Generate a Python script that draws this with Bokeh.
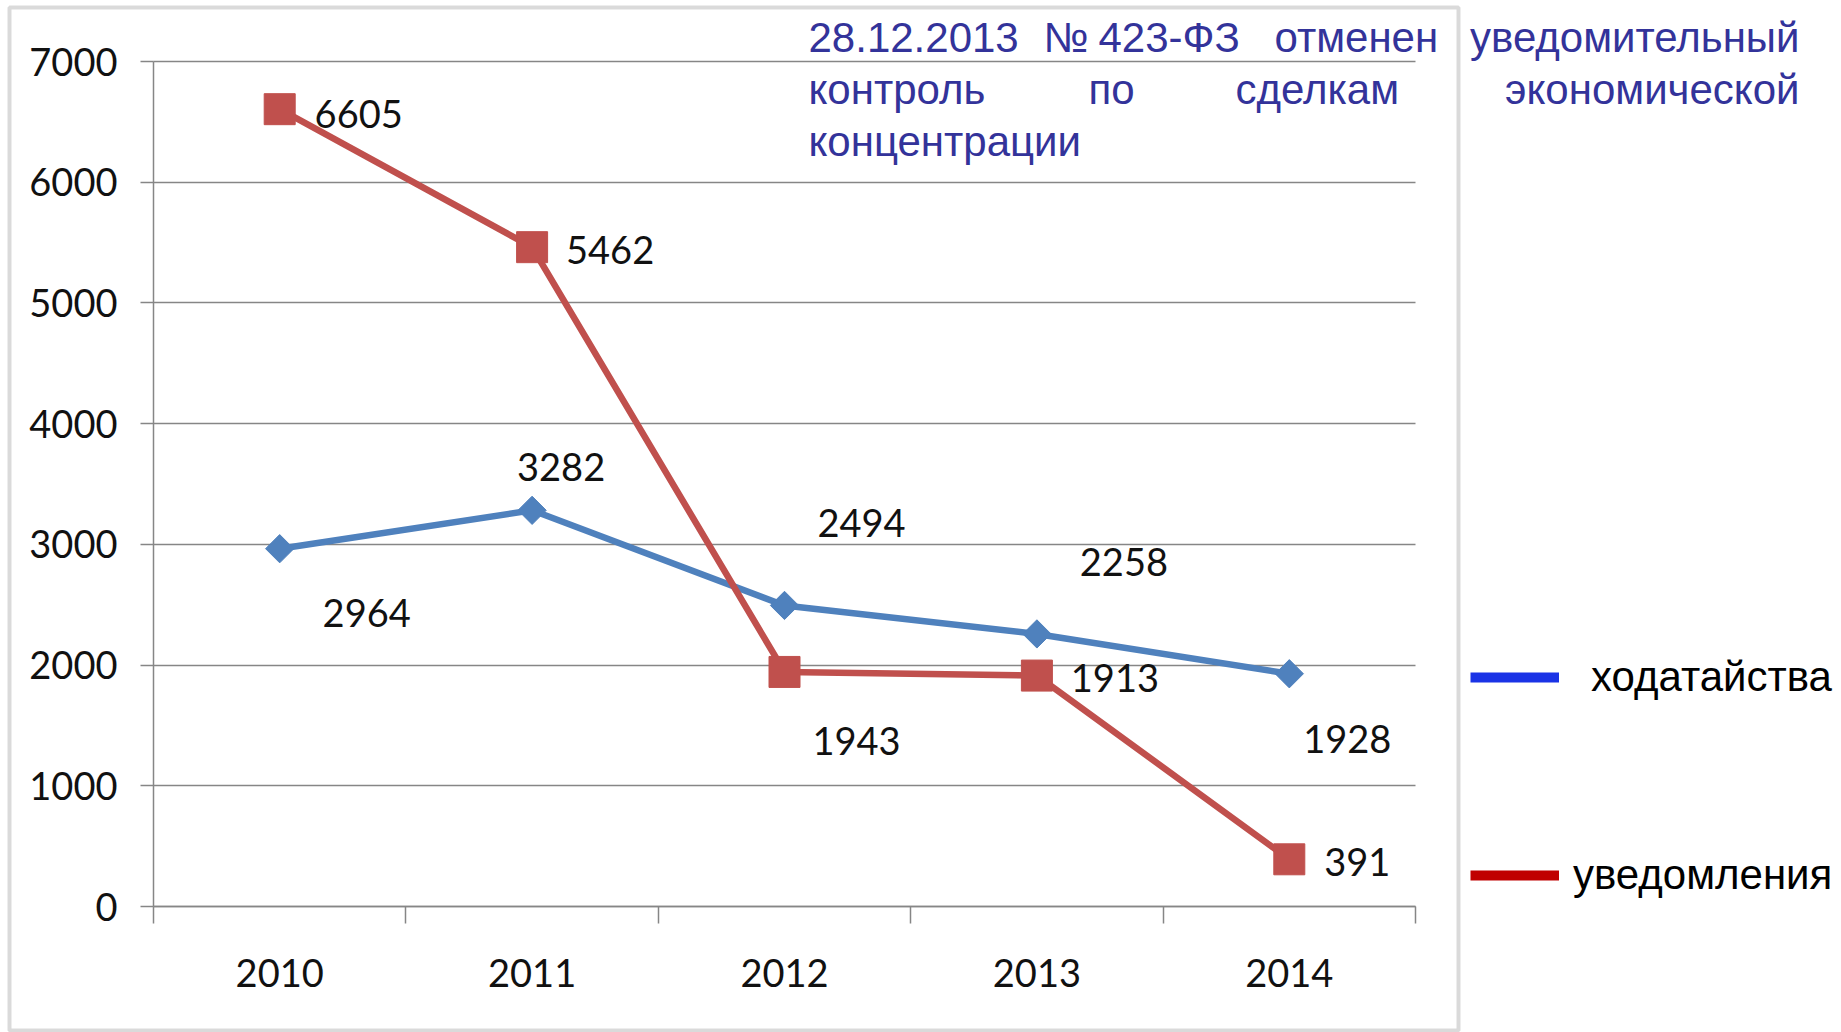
from bokeh.plotting import figure
from bokeh.models import (FixedTicker, Label, Legend, LegendItem, BoxAnnotation,
                          ColumnDataSource, Range1d)
from bokeh.embed import file_html
from bokeh.resources import INLINE
from bokeh.core.properties import value

# ---------------- data ----------------
years = [2010, 2011, 2012, 2013, 2014]
petitions = [2964, 3282, 2494, 2258, 1928]      # ходатайства
notices = [6605, 5462, 1943, 1913, 391]         # уведомления
y_ticks = [0, 1000, 2000, 3000, 4000, 5000, 6000, 7000]
series_names = ["ходатайства", "уведомления"]
note_line1 = ["28.12.2013", "№", "423-ФЗ", "отменен", "уведомительный"]
note_line2 = ["контроль", "по", "сделкам", "экономической"]
note_line3 = ["концентрации"]

# ---------------- layout / style ----------------
W, H = 1841, 1032
AX_L, AX_R = 153, 1415        # plot area in px (x)
AX_T, AX_B = 61, 906          # plot area in px (y)
GRAY = "#868686"
NUM_FONT = "Lato"
TXT_FONT = "Liberation Sans"
BLUE = "#4F81BD"
RED = "#C0504D"
NOTE_COLOR = "#33339A"

# data-label pixel offsets (style)
pet_dx = [87, 29, 77, 87, 58]
pet_dy = [64, -43, -82, -72, 65]
not_dx = [79, 78, 72, 78, 68]
not_dy = [5, 3, 69, 2, 3]

x_lo, x_hi = years[0] - 0.5, years[-1] + 0.5
y_lo, y_hi = y_ticks[0], y_ticks[-1]
ppx = (AX_R - AX_L) / (x_hi - x_lo)
ppy = (AX_B - AX_T) / (y_hi - y_lo)

p = figure(width=W, height=H, output_backend="svg", toolbar_location=None,
           title=None,
           x_range=Range1d(x_lo - AX_L / ppx, x_hi + (W - AX_R) / ppx),
           y_range=Range1d(y_lo - (H - AX_B) / ppy, y_hi + AX_T / ppy),
           min_border=0)
p.outline_line_color = None
p.background_fill_color = "white"
p.border_fill_color = "white"


def sx(ref_x):
    return ref_x


def sy(ref_y):
    return H - ref_y


# axes drawn inside the canvas at fixed locations
xax = p.xaxis[0]
yax = p.yaxis[0]
xax.fixed_location = y_lo
yax.fixed_location = x_lo
xax.bounds = (x_lo, x_hi)
yax.bounds = (y_lo, y_hi)

xax.ticker = FixedTicker(ticks=years,
                         minor_ticks=[y - 0.5 for y in years] + [years[-1] + 0.5])
xax.major_tick_line_color = None
xax.major_tick_out = 0
xax.major_tick_in = 0
xax.minor_tick_out = 17
xax.minor_tick_in = 0
xax.minor_tick_line_color = GRAY
xax.minor_tick_line_width = 1.5
xax.major_label_standoff = 35

yax.ticker = FixedTicker(ticks=y_ticks)
yax.major_tick_out = 13
yax.major_tick_in = 0
yax.minor_tick_line_color = None
yax.major_tick_line_color = GRAY
yax.major_tick_line_width = 1.5
yax.major_label_standoff = 23

for ax in (xax, yax):
    ax.axis_line_color = GRAY
    ax.axis_line_width = 1.5
    ax.major_label_text_font = NUM_FONT
    ax.major_label_text_font_size = "38px"
    ax.major_label_text_color = "#111111"

p.xgrid.grid_line_color = None
yg = p.ygrid[0]
yg.ticker = yax.ticker
if "cross_bounds" in yg.properties():
    yg.cross_bounds = (x_lo, x_hi)
    yg.grid_line_color = GRAY
    yg.grid_line_width = 1.5
else:
    yg.grid_line_color = None
    p.segment(x0=[x_lo] * len(y_ticks), x1=[x_hi] * len(y_ticks),
              y0=y_ticks, y1=y_ticks, line_color=GRAY, line_width=1.5)

# series
src = ColumnDataSource(dict(x=years, pet=petitions, notc=notices,
                            pet_t=[str(v) for v in petitions],
                            not_t=[str(v) for v in notices],
                            pdx=pet_dx, pdy=pet_dy, ndx=not_dx, ndy=not_dy))

p.line("x", "pet", source=src, line_color=BLUE, line_width=6.5)
p.scatter("x", "pet", source=src, marker="square", angle=0.7854, size=20,
          fill_color=BLUE, line_color=BLUE)
p.line("x", "notc", source=src, line_color=RED, line_width=6.5)
p.scatter("x", "notc", source=src, marker="square", size=31,
          fill_color=RED, line_color=RED)

p.text("x", "pet", text="pet_t", source=src, x_offset="pdx", y_offset="pdy",
       text_font=value(NUM_FONT), text_font_size="38px", text_color="#111111",
       text_align="center", text_baseline="middle")
p.text("x", "notc", text="not_t", source=src, x_offset="ndx", y_offset="ndy",
       text_font=value(NUM_FONT), text_font_size="38px", text_color="#111111",
       text_align="center", text_baseline="middle")

# legend (separate items; legend colours differ from line colours)
nan = float("nan")
leg_blue = p.line(x=[nan], y=[nan], line_color="#1A33E6", line_width=10)
leg_red = p.line(x=[nan], y=[nan], line_color="#C00000", line_width=10)
for rend, name, cy, standoff in [(leg_blue, series_names[0], 677, 32),
                                 (leg_red, series_names[1], 875, 14)]:
    lg = Legend(items=[LegendItem(label=name, renderers=[rend], index=0)],
                location=(sx(1470), sy(cy + 25)),
                glyph_width=89, glyph_height=50, label_height=50,
                label_standoff=standoff, padding=0, margin=0, spacing=0,
                border_line_color=None, background_fill_alpha=0,
                label_text_font=TXT_FONT, label_text_font_size="42px",
                label_text_color="#000000")
    p.add_layout(lg, "center")

# image outline
p.add_layout(BoxAnnotation(left=sx(9), right=sx(1458), top=sy(7), bottom=sy(1030),
                           left_units="screen", right_units="screen",
                           top_units="screen", bottom_units="screen",
                           fill_alpha=0, line_color=GRAY, line_width=4))


# note text (justified words)
def add_words(words, lefts, right_word, baseline):
    for w, lx in zip(words, lefts):
        p.add_layout(Label(x=sx(lx), y=sy(baseline), text=w,
                           x_units="screen", y_units="screen",
                           text_font=TXT_FONT, text_font_size="42px",
                           text_color=NOTE_COLOR, text_align="left",
                           text_baseline="alphabetic"))
    if right_word:
        p.add_layout(Label(x=sx(1799), y=sy(baseline), text=right_word,
                           x_units="screen", y_units="screen",
                           text_font=TXT_FONT, text_font_size="42px",
                           text_color=NOTE_COLOR, text_align="right",
                           text_baseline="alphabetic"))


add_words(note_line1[:-1], [808, 1043, 1098, 1274], note_line1[-1], 37)
add_words(note_line2[:-1], [808, 1088, 1235], note_line2[-1], 89)
add_words(note_line3, [808], None, 141)

open("out.html", "w").write(file_html(p, INLINE))
